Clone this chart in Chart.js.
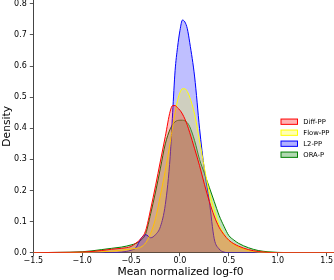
<!DOCTYPE html>
<html><head><meta charset="utf-8">
<script src="https://cdn.jsdelivr.net/npm/chart.js@4"></script>
<style>html,body{margin:0;padding:0;background:#fff}#wrap{width:334px;height:280px;position:relative}</style>
</head><body><div id="wrap"><canvas id="c" width="334" height="280"></canvas></div>
<script>
const xGrid = [-1.5,-1.25,-1.0,-0.9,-0.8,-0.7,-0.6,-0.55,-0.5,-0.45,-0.4,-0.35,-0.3,-0.25,-0.2,-0.15,-0.1,-0.075,-0.05,-0.025,0,0.025,0.05,0.075,0.1,0.15,0.2,0.25,0.3,0.35,0.4,0.45,0.5,0.55,0.6,0.7,0.8,0.9,1.0,1.25,1.575];
const diffPP = [0,0.001,0.002,0.004,0.007,0.011,0.014,0.016,0.020,0.031,0.045,0.072,0.14,0.215,0.295,0.374,0.455,0.473,0.473,0.466,0.458,0.446,0.43,0.41,0.386,0.334,0.28,0.22,0.165,0.118,0.082,0.058,0.04,0.029,0.021,0.01,0.004,0.001,0,0,0];
const flowPP = [0,0,0.001,0.002,0.003,0.005,0.008,0.01,0.012,0.014,0.018,0.032,0.062,0.11,0.185,0.265,0.355,0.405,0.45,0.49,0.515,0.527,0.527,0.518,0.50,0.445,0.36,0.272,0.195,0.138,0.09,0.06,0.04,0.026,0.017,0.007,0.002,0.001,0,0,0];
const l2PP = [0,0,0,0,0,0,0.002,0.004,0.008,0.016,0.045,0.058,0.048,0.058,0.084,0.155,0.31,0.45,0.585,0.66,0.715,0.748,0.742,0.72,0.675,0.565,0.40,0.265,0.165,0.045,0.012,0.002,0,0,0,0,0,0,0,0,0];
const oraP = [0,0.001,0.003,0.006,0.01,0.014,0.018,0.021,0.025,0.03,0.04,0.062,0.125,0.195,0.272,0.35,0.398,0.412,0.421,0.425,0.426,0.426,0.424,0.418,0.405,0.36,0.30,0.255,0.21,0.165,0.12,0.085,0.055,0.041,0.03,0.016,0.007,0.003,0.001,0,0];
const seriesLabels = ['Diff-PP','Flow-PP','L2-PP','ORA-P'];
const xTickValues = [-1.5,-1.0,-0.5,0.0,0.5,1.0,1.5];
const yTickValues = [0,0.1,0.2,0.3,0.4,0.5,0.6,0.7,0.8];
const xTitle = 'Mean normalized log-f0';
const yTitle = 'Density';

const seriesValues = [diffPP, flowPP, l2PP, oraP];
const lineColors = ['#ff0000','#ffff00','#0000ff','#008000'];
const fillColors = ['rgba(255,0,0,0.25)','rgba(255,255,0,0.25)','rgba(0,0,255,0.25)','rgba(0,128,0,0.25)'];
const legendFill = ['rgba(255,0,0,0.3)','rgba(255,255,0,0.3)','rgba(0,0,255,0.3)','rgba(0,128,0,0.3)'];

const fmt = v => { const s = Math.abs(v).toFixed(1); return (v < -1e-9 ? '\u2212' : '') + s; };
const FONT = "'DejaVu Sans', sans-serif";

const datasets = seriesValues.map((vals, i) => ({
  label: seriesLabels[i],
  data: xGrid.map((x, j) => ({x: x, y: vals[j]})),
  borderColor: lineColors[i],
  backgroundColor: fillColors[i],
  borderWidth: 1,
  fill: 'origin',
  pointRadius: 0,
  cubicInterpolationMode: 'monotone'
}));

const overlay = {
  id: 'overlay',
  afterDraw(chart) {
    const ctx = chart.ctx;
    const ca = chart.chartArea;
    ctx.save();
    ctx.fillStyle = '#000';
    ctx.font = '10.7px ' + FONT;
    ctx.textAlign = 'center';
    ctx.textBaseline = 'middle';
    ctx.fillText(xTitle, 180.5, 272.5);
    ctx.save();
    ctx.translate(7.5, (ca.top + ca.bottom) / 2);
    ctx.rotate(-Math.PI / 2);
    ctx.fillText(yTitle, 0, 0);
    ctx.restore();
    // legend
    const bx = 281, bw = 16.5, bh = 5.3;
    const y0 = 121.7, dy = 11;
    ctx.font = '6.8px ' + FONT;
    ctx.textAlign = 'left';
    chart.data.datasets.forEach((ds, i) => {
      const cy = y0 + i * dy;
      ctx.fillStyle = legendFill[i];
      ctx.fillRect(bx, cy - bh / 2, bw, bh);
      ctx.strokeStyle = ds.borderColor;
      ctx.lineWidth = 1;
      ctx.strokeRect(bx, cy - bh / 2, bw, bh);
      ctx.fillStyle = '#000';
      ctx.fillText(ds.label, 303.3, cy + 0.3);
    });
    ctx.restore();
  }
};

new Chart(document.getElementById('c'), {
  type: 'line',
  data: { datasets },
  options: {
    responsive: false,
    devicePixelRatio: 1,
    animation: false,
    layout: { padding: 0 },
    plugins: {
      legend: { display: false },
      tooltip: { enabled: false },
      filler: { drawTime: 'beforeDatasetDraw' }
    },
    scales: {
      x: {
        type: 'linear', min: -1.5, max: 1.575,
        afterBuildTicks: s => { s.ticks = xTickValues.map(v => ({value: v})); },
        afterFit: s => { s.height = 27.3; s.paddingLeft = 0; s.paddingRight = 0; },
        ticks: { callback: v => fmt(v), font: { family: FONT, size: 8 }, color: '#000', padding: 0, maxRotation: 0, autoSkip: false },
        grid: { drawOnChartArea: false, drawTicks: true, tickLength: 3.5, tickColor: '#444', tickWidth: 0.9 },
        border: { display: true, color: '#444', width: 1 }
      },
      y: {
        type: 'linear', min: 0, max: 0.8125,
        afterBuildTicks: s => { s.ticks = yTickValues.map(v => ({value: v})); },
        afterFit: s => { s.width = 33.3; s.paddingTop = 0; s.paddingBottom = 0; },
        ticks: { callback: v => v.toFixed(1), font: { family: FONT, size: 8 }, color: '#000', padding: 3, autoSkip: false },
        grid: { drawOnChartArea: false, drawTicks: true, tickLength: 3.5, tickColor: '#444', tickWidth: 0.9 },
        border: { display: true, color: '#444', width: 1 }
      }
    }
  },
  plugins: [overlay]
});
</script>
</body></html>
